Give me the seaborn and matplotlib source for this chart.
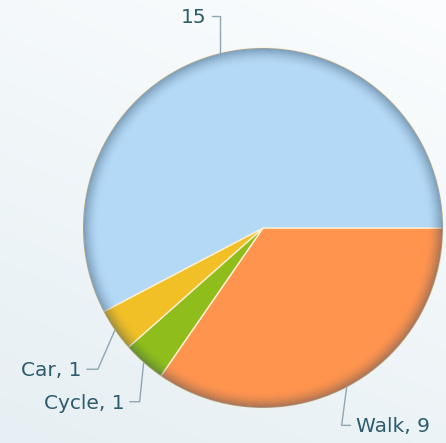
import numpy as np
import matplotlib
matplotlib.use('Agg')
import matplotlib.pyplot as plt
import seaborn as sns
from matplotlib.patches import Wedge

# chart data (clockwise from 3 o'clock)
labels = ["Walk, 9", "Cycle, 1", "Car, 1", "15"]
values = [9, 1, 1, 15]
colors = ["#ff944f", "#8fbe1c", "#f1c027", "#b4d9f6"]
# leader geometry in pixels: elbow offset from rim point, then horizontal run
elbows = [(-5, -38), (-4, -39), (-17, -39), (0, 37)]
runs = [9, -10, -11, -8]

sns.set_theme(style="white")
plt.rcParams['font.family'] = ['DejaVu Sans']

W, H = 446, 443
fig = plt.figure(figsize=(W / 100, H / 100), dpi=100)

# soft gradient backdrop
bg = fig.add_axes([0, 0, 1, 1])
yy = np.linspace(0, 1, 200)[:, None]
xx = np.linspace(0, 1, 200)[None, :]
grad = 0.45 * yy + 0.2 * (1 - xx)
bg.imshow(grad, cmap=matplotlib.colors.LinearSegmentedColormap.from_list(
    "bg", ["#fbfdfe", "#e6eff3"]), aspect="auto", extent=[0, 1, 0, 1],
    vmin=0, vmax=0.65)
bg.set_axis_off()

cx, cy, r = 263, 228, 180
ax = fig.add_axes([(cx - r) / W, 1 - (cy + r) / H, 2 * r / W, 2 * r / H])
ax.set_axis_off()

wedges, _ = ax.pie(values, colors=colors, startangle=0, counterclock=False,
                   radius=1, wedgeprops=dict(edgecolor="#fdf0d2", linewidth=1.0))

# rim shading
n = 16
step = 0.085 / n
for i in range(n):
    ax.add_patch(Wedge((0, 0), 1.0 - i * step, 0, 360, width=step,
                       facecolor="#24405a", alpha=0.42 * (1 - i / n) ** 1.8,
                       linewidth=0))

ax.set_xlim(-1, 1)
ax.set_ylim(-1, 1)
ax.set_aspect("equal")

px2d = 1 / r  # pixel -> data units
for wdg, lab, (ex, ey), run in zip(wedges, labels, elbows, runs):
    mid = np.deg2rad((wdg.theta1 + wdg.theta2) / 2)
    x0, y0 = np.cos(mid), np.sin(mid)
    x1, y1 = x0 + ex * px2d, y0 + ey * px2d
    x2 = x1 + run * px2d
    ax.plot([x0, x1, x2], [y0, y1, y1], color="#8ea7b3", lw=1.0,
            clip_on=False, solid_joinstyle="miter")
    gap = 5 * px2d * np.sign(run)
    ax.text(x2 + gap, y1 - 1.5 * px2d, lab, ha="left" if run > 0 else "right",
            va="center", fontsize=14.5, color="#2d5c6c")

fig.savefig("out.png", dpi=100)
